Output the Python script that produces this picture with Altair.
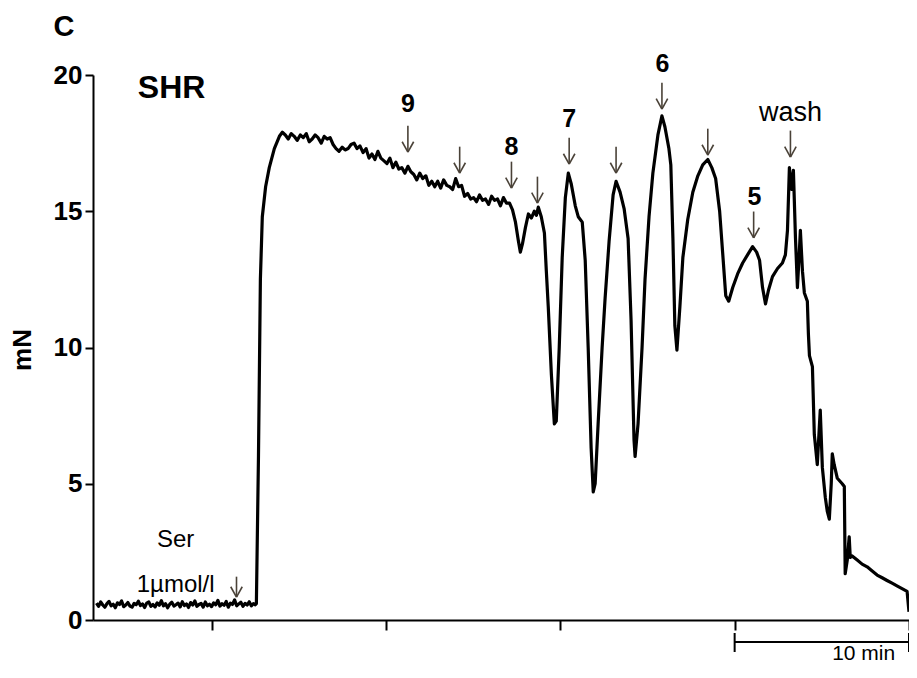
import altair as alt
import pandas as pd

# ---------------- data (minutes, mN) ----------------
baseline_time = [0.20, 0.32, 0.44, 0.56, 0.68, 0.80, 0.92, 1.04, 1.16, 1.28, 1.40, 1.52, 1.64, 1.76,
                 1.88, 2.00, 2.12, 2.24, 2.36, 2.48, 2.60, 2.72, 2.84, 2.96, 3.08, 3.20, 3.32, 3.44,
                 3.56, 3.68, 3.80, 3.92, 4.04, 4.16, 4.28, 4.40, 4.52, 4.64, 4.76, 4.88, 5.00, 5.12,
                 5.24, 5.36, 5.48, 5.60, 5.72, 5.84, 5.96, 6.08, 6.20, 6.32, 6.44, 6.56, 6.68, 6.80,
                 6.92, 7.04, 7.16, 7.28, 7.40, 7.52, 7.64, 7.76, 7.88, 8.00, 8.12, 8.24, 8.36, 8.48,
                 8.60, 8.72, 8.84, 8.96, 9.08, 9.20, 9.31]
baseline_force = [0.62, 0.50, 0.66, 0.55, 0.47, 0.60, 0.68, 0.52, 0.58, 0.45, 0.63, 0.57, 0.70, 0.49,
                  0.55, 0.64, 0.51, 0.47, 0.61, 0.56, 0.69, 0.53, 0.59, 0.46, 0.62, 0.66, 0.50, 0.57,
                  0.48, 0.63, 0.54, 0.71, 0.52, 0.60, 0.45, 0.58, 0.65, 0.51, 0.56, 0.62, 0.48, 0.67,
                  0.53, 0.59, 0.46, 0.64, 0.55, 0.70, 0.50, 0.57, 0.61, 0.47, 0.66, 0.52, 0.58, 0.49,
                  0.63, 0.56, 0.72, 0.51, 0.60, 0.54, 0.68, 0.47, 0.62, 0.57, 0.74, 0.52, 0.59, 0.65,
                  0.50, 0.61, 0.55, 0.67, 0.52, 0.60, 0.56]

trace_time = [9.37, 9.49, 9.60, 9.71, 9.90, 10.11, 10.40,
              10.69, 10.86, 11.03, 11.20, 11.37, 11.54, 11.71, 11.89, 12.06, 12.23, 12.40, 12.57,
              12.74, 12.91, 13.09, 13.26, 13.43, 13.60, 13.77, 13.94, 14.11, 14.29, 14.46, 14.63,
              14.80, 14.97, 15.14, 15.31, 15.49, 15.66, 15.83, 16.00, 16.17, 16.34, 16.51, 16.69,
              16.86, 17.03, 17.20, 17.37, 17.54, 17.71, 17.89, 18.06, 18.23, 18.40, 18.57, 18.74,
              18.91, 19.09, 19.26, 19.43, 19.60, 19.77, 19.94, 20.11, 20.29, 20.46, 20.63, 20.80,
              20.97, 21.14, 21.31, 21.49, 21.66, 21.83, 22.00, 22.17, 22.34, 22.51, 22.69, 22.86,
              23.03, 23.20, 23.37, 23.54, 23.71, 23.89, 24.06, 24.23, 24.40, 24.51, 24.63, 24.80,
              24.97, 25.14, 25.31, 25.43, 25.54, 25.71, 25.89, 26.00, 26.11, 26.29, 26.46, 26.57,
              26.74, 26.91, 27.09, 27.26, 27.43, 27.66, 27.83, 28.06, 28.23, 28.40, 28.57, 28.69,
              28.80, 28.97, 29.20, 29.37, 29.60, 29.83, 30.00, 30.23, 30.46, 30.69, 30.86, 31.03,
              31.09, 31.26, 31.49, 31.66, 31.89, 32.11, 32.40, 32.63, 32.80, 33.03, 33.14, 33.26,
              33.37, 33.49, 33.66, 33.83, 34.11, 34.40, 34.69, 34.97, 35.26, 35.49, 35.71, 35.94,
              36.11, 36.29, 36.46, 36.69, 36.97, 37.26, 37.54, 37.83, 38.06, 38.23, 38.40, 38.57,
              38.74, 38.97, 39.26, 39.54, 39.71, 39.83, 39.94, 40.06, 40.17, 40.29, 40.40, 40.51,
              40.57, 40.69, 40.80, 40.97, 41.03, 41.09, 41.26, 41.37, 41.54, 41.71, 41.83, 42.00,
              42.11, 42.23, 42.34, 42.40, 42.51, 42.69, 42.97, 43.09, 43.14, 43.26, 43.37, 43.43,
              43.54, 43.83, 44.11, 44.40, 44.69, 44.97, 45.26, 45.54, 45.83, 46.11, 46.40, 46.69,
              46.80]
trace_force = [0.6, 6.0, 12.5, 14.8, 15.9, 16.6, 17.3,
               17.75, 17.9, 17.8, 17.65, 17.85, 17.75, 17.6, 17.8, 17.7, 17.85, 17.55, 17.65,
               17.8, 17.7, 17.5, 17.75, 17.65, 17.7, 17.45, 17.3, 17.2, 17.35, 17.25, 17.3,
               17.45, 17.5, 17.3, 17.4, 17.15, 17.3, 16.95, 17.1, 16.9, 17.2, 16.95, 16.85,
               16.75, 16.95, 16.6, 16.8, 16.55, 16.6, 16.4, 16.65, 16.45, 16.35, 16.15, 16.4,
               16.2, 16.3, 15.95, 16.1, 15.9, 16.1, 15.85, 16.15, 15.95, 15.9, 15.8, 16.2,
               15.9, 15.95, 15.55, 15.65, 15.45, 15.5, 15.35, 15.6, 15.4, 15.45, 15.25, 15.55,
               15.4, 15.45, 15.2, 15.5, 15.3, 15.3, 15.05, 14.6, 13.9, 13.5, 13.8, 14.4,
               14.9, 14.75, 15.0, 14.85, 15.15, 14.8, 14.2, 12.8, 11.5, 9.0, 7.2, 7.3,
               10.0, 13.3, 15.5, 16.4, 16.0, 15.2, 14.8, 14.6, 13.2, 10.0, 6.3, 4.7,
               5.0, 7.2, 10.0, 11.8, 13.9, 15.6, 16.1, 15.7, 15.1, 14.0, 11.0, 6.6,
               6.0, 7.2, 10.0, 12.5, 14.8, 16.4, 17.8, 18.5, 18.1, 17.3, 16.7, 14.0,
               10.8, 9.9, 11.5, 13.3, 14.7, 15.7, 16.3, 16.7, 16.9, 16.6, 16.2, 15.0,
               13.5, 11.9, 11.7, 12.2, 12.7, 13.1, 13.4, 13.7, 13.5, 13.2, 12.2, 11.6,
               12.1, 12.6, 12.9, 13.1, 13.4, 14.3, 16.6, 15.8, 16.5, 14.0, 12.2, 13.5,
               14.3, 12.8, 12.0, 11.7, 10.5, 9.7, 9.3, 6.8, 5.7, 7.7, 5.6, 4.5,
               4.0, 3.7, 5.0, 6.1, 5.7, 5.2, 5.0, 4.9, 1.7, 2.2, 3.05, 2.3,
               2.35, 2.2, 2.05, 1.95, 1.8, 1.65, 1.55, 1.45, 1.35, 1.25, 1.15, 1.05,
               0.3]

# arrows: time of arrow (min), tip level (mN), shaft length (mN)
arrow_time = [8.23, 18.06, 21.03, 24.00, 25.49, 27.31, 30.00, 32.63, 35.26, 37.89, 40.00]
arrow_tip = [0.84, 17.17, 16.40, 15.85, 15.30, 16.73, 16.40, 18.75, 17.06, 14.02, 16.99]
arrow_len = [0.75, 0.97, 0.97, 0.97, 0.97, 0.97, 0.97, 0.97, 0.97, 0.97, 0.97]

# annotation labels
bold_labels = ["9", "8", "7", "6", "5"]
bold_label_time = [18.06, 24.00, 27.31, 32.66, 37.94]
bold_label_force = [18.94, 17.36, 18.39, 20.40, 15.52]

plain_labels = ["Ser", "1\u00b5mol/l"]
plain_label_time = [4.74, 4.74]
plain_label_force = [2.94, 1.28]

wash_label = ["wash"]
wash_time = [40.0]
wash_force = [18.61]

x_ticks = [6.8, 16.8, 26.8, 36.8, 46.8]
y_ticks = [0, 5, 10, 15, 20]
scale_bar = [36.8, 46.8]

# ---------------- layout ----------------
W, H = 816, 545
X_MAX = 46.8
FONT = "Liberation Sans"
ARROW_COLOR = "#4a4238"

xs = alt.Scale(domain=[0, X_MAX], nice=False, zero=False)
ys = alt.Scale(domain=[0, 20], nice=False)

trace_df = pd.DataFrame({
    "t": baseline_time + trace_time,
    "f": baseline_force + trace_force,
})
trace_df["order"] = range(len(trace_df))

base_x = alt.X("t:Q", scale=xs,
               axis=alt.Axis(values=x_ticks, labels=False, title=None, grid=False,
                             domainColor="black", domainWidth=2, tickColor="black",
                             tickWidth=2, tickSize=10))
base_y = alt.Y("f:Q", scale=ys,
               axis=alt.Axis(values=y_ticks, title="mN", grid=False, domainColor="black",
                             domainWidth=2, tickColor="black", tickWidth=2, tickSize=8,
                             labelFont=FONT, labelFontSize=26, labelFontWeight="bold",
                             labelColor="black", labelPadding=3,
                             titleFont=FONT, titleFontSize=26, titleFontWeight="bold",
                             titleColor="black", titleX=-58, titleY=H / 2 + 2))

trace = alt.Chart(trace_df).mark_line(color="black", strokeWidth=3.2,
                                      strokeJoin="round").encode(
    x=base_x, y=base_y, order="order:Q")

# arrows
DX = 0.33   # head half width in minutes
DY = 0.38   # head height in mN
arr_df = pd.DataFrame({"t": arrow_time, "tip": arrow_tip, "len": arrow_len})
arr_df["top"] = arr_df["tip"] + arr_df["len"]
arr_df["hy"] = arr_df["tip"] + DY
arr_df["lx"] = arr_df["t"] - DX
arr_df["rx"] = arr_df["t"] + DX

arrow_kw = dict(color=ARROW_COLOR, strokeWidth=1.6)
shaft = alt.Chart(arr_df).mark_rule(**arrow_kw).encode(
    x=alt.X("t:Q", scale=xs), y=alt.Y("tip:Q", scale=ys), y2="top:Q")
head_l = alt.Chart(arr_df).mark_rule(**arrow_kw).encode(
    x=alt.X("t:Q", scale=xs), y=alt.Y("tip:Q", scale=ys), x2="lx:Q", y2="hy:Q")
head_r = alt.Chart(arr_df).mark_rule(**arrow_kw).encode(
    x=alt.X("t:Q", scale=xs), y=alt.Y("tip:Q", scale=ys), x2="rx:Q", y2="hy:Q")

bold_df = pd.DataFrame({"t": bold_label_time, "f": bold_label_force, "txt": bold_labels})
bold_text = alt.Chart(bold_df).mark_text(font=FONT, fontSize=25, fontWeight="bold",
                                         color="black", baseline="middle", align="center").encode(
    x=alt.X("t:Q", scale=xs), y=alt.Y("f:Q", scale=ys), text="txt:N")

plain_df = pd.DataFrame({"t": plain_label_time, "f": plain_label_force, "txt": plain_labels})
plain_text = alt.Chart(plain_df).mark_text(font=FONT, fontSize=24, color="black",
                                           baseline="middle", align="center").encode(
    x=alt.X("t:Q", scale=xs), y=alt.Y("f:Q", scale=ys), text="txt:N")

wash_df = pd.DataFrame({"t": wash_time, "f": wash_force, "txt": wash_label})
wash_text = alt.Chart(wash_df).mark_text(font=FONT, fontSize=27, color="black",
                                         baseline="middle", align="center").encode(
    x=alt.X("t:Q", scale=xs), y=alt.Y("f:Q", scale=ys), text="txt:N")

shr_df = pd.DataFrame({"t": [2.57], "f": [19.52], "txt": ["SHR"]})
shr_text = alt.Chart(shr_df).mark_text(font=FONT, fontSize=32, fontWeight="bold",
                                       color="black", baseline="middle", align="left").encode(
    x=alt.X("t:Q", scale=xs), y=alt.Y("f:Q", scale=ys), text="txt:N")

panel_df = pd.DataFrame({"txt": ["C"]})
panel_text = alt.Chart(panel_df).mark_text(font=FONT, fontSize=29, fontWeight="bold",
                                           color="black", baseline="middle", align="center").encode(
    x=alt.value(-29), y=alt.value(-48), text="txt:N")

# scale bar (10 min) below the x axis
bar_df = pd.DataFrame({"a": [scale_bar[0]], "b": [scale_bar[1]]})
bar = alt.Chart(bar_df).mark_rule(color="black", strokeWidth=2).encode(
    x=alt.X("a:Q", scale=xs), x2="b:Q", y=alt.value(H + 22))
caps_df = pd.DataFrame({"a": scale_bar})
caps = alt.Chart(caps_df).mark_rule(color="black", strokeWidth=2).encode(
    x=alt.X("a:Q", scale=xs), y=alt.value(H + 13), y2=alt.value(H + 32))
bar_lbl_df = pd.DataFrame({"t": [44.2], "txt": ["10 min"]})
bar_lbl = alt.Chart(bar_lbl_df).mark_text(font=FONT, fontSize=21, color="black",
                                          baseline="alphabetic", align="center").encode(
    x=alt.X("t:Q", scale=xs), y=alt.value(H + 40), text="txt:N")

chart = alt.layer(
    trace, shaft, head_l, head_r, bold_text, plain_text, wash_text, shr_text,
    panel_text, bar, caps, bar_lbl
).properties(
    width=W, height=H,
    autosize=alt.AutoSizeParams(type="none"),
    padding={"left": 85, "top": 67, "right": 0, "bottom": 45},
).configure(
    background="white",
    view=alt.ViewConfig(stroke="transparent", strokeWidth=0),
)

chart.save("out.html", embed_options={"renderer": "svg", "actions": False})
